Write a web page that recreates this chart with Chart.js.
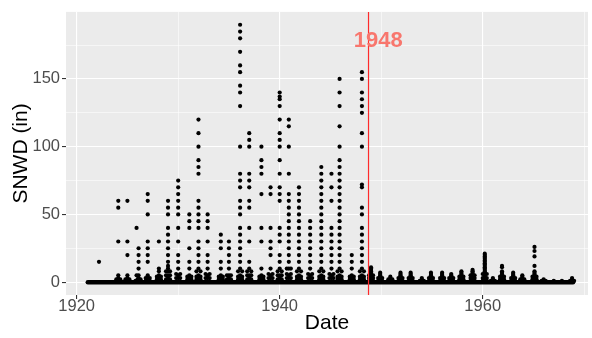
<!DOCTYPE html>
<html>
<head>
<meta charset="utf-8">
<title>SNWD</title>
<script src="https://cdn.jsdelivr.net/npm/chart.js@4.4.1/dist/chart.umd.min.js"></script>
<style>
  html, body { margin: 0; padding: 0; background: #ffffff; }
  #wrap { width: 592px; height: 338px; }
</style>
</head>
<body>
<div id="wrap"><canvas id="snwdChart" width="592" height="338"></canvas></div>
<script>
// winter peaks (decimal year) and the snow depths recorded around them
var winterDates = [1922.2, 1924.1, 1925.0, 1925.9, 1926.1, 1927.0, 1928.1, 1929.0, 1930.0, 1931.1,
  1932.0, 1932.9, 1934.2, 1935.0, 1936.1, 1937.0, 1938.2, 1939.1, 1940.0, 1940.9,
  1941.9, 1943.0, 1944.1, 1945.1, 1945.9, 1947.1, 1948.1, 1949.0, 1949.9, 1950.9,
  1951.9, 1952.9, 1954.0, 1954.9, 1956.0, 1956.9, 1957.9, 1959.0, 1960.2, 1961.0,
  1961.9, 1963.0, 1963.9, 1965.1, 1966.0, 1967.0, 1967.8, 1968.8];

var earlyDates = [1922.0, 1923.9, 1924.8, 1925.8, 1926.0, 1926.8, 1927.9, 1928.8, 1929.8, 1930.9,
  1931.8, 1932.7, 1934.0, 1934.8, 1935.9, 1936.8, 1938.0, 1938.9, 1939.8, 1940.7,
  1941.7, 1942.8, 1943.9, 1944.9, 1945.7, 1946.9, 1947.9, 1948.8, 1949.7, 1950.7,
  1951.7, 1952.7, 1953.8, 1954.7, 1955.8, 1956.7, 1957.7, 1958.8, 1960.0, 1960.8,
  1961.7, 1962.8, 1963.7, 1964.9, 1965.8, 1966.8, 1967.6, 1968.6];

var lateDates = [1922.4, 1924.3, 1925.2, 1926.0, 1926.3, 1927.2, 1928.3, 1929.2, 1930.2, 1931.3,
  1932.2, 1933.1, 1934.4, 1935.2, 1936.3, 1937.2, 1938.4, 1939.3, 1940.2, 1941.1,
  1942.1, 1943.2, 1944.3, 1945.3, 1946.1, 1947.3, 1948.3, 1949.2, 1950.1, 1951.1,
  1952.1, 1953.1, 1954.2, 1955.1, 1956.2, 1957.1, 1958.1, 1959.2, 1960.4, 1961.2,
  1962.1, 1963.2, 1964.1, 1965.3, 1966.2, 1967.2, 1968.0, 1969.0];

var winterDepths = [
  [15],
  [60, 55, 30, 5, 3],
  [60, 30, 20, 5, 3],
  [40, 5],
  [25, 20, 15, 10, 5, 3],
  [65, 60, 50, 30, 25, 20, 15, 5, 3],
  [30, 10, 8, 5, 3, 2],
  [60, 55, 50, 40, 35, 30, 25, 20, 15, 12, 10, 8, 5, 3, 2],
  [75, 70, 65, 60, 55, 50, 40, 30, 20, 15, 10, 5, 3],
  [50, 45, 40, 25, 15, 10, 5, 3],
  [120, 110, 100, 90, 85, 80, 60, 55, 50, 45, 40, 30, 25, 20, 15, 10, 5, 3],
  [50, 45, 40, 30, 20, 15, 10, 5, 3],
  [35, 30, 25, 15, 10, 5, 3],
  [30, 25, 20, 15, 10, 5, 3],
  [190, 185, 180, 170, 160, 155, 145, 140, 130, 100, 80, 75, 70, 60, 55, 50, 40, 35, 30, 25, 20, 15, 10, 5, 3],
  [110, 105, 100, 80, 75, 70, 60, 55, 40, 30, 15, 10, 5, 3],
  [100, 90, 85, 80, 65, 40, 30, 10, 5, 3],
  [70, 65, 40, 30, 25, 20, 10, 5, 3],
  [140, 137, 135, 130, 120, 110, 105, 100, 90, 80, 70, 65, 60, 40, 35, 30, 20, 15, 10, 5, 3],
  [120, 115, 100, 80, 65, 60, 55, 50, 45, 40, 35, 30, 25, 20, 15, 10, 5, 3],
  [70, 65, 60, 55, 50, 45, 40, 35, 30, 25, 20, 15, 10, 5, 3],
  [45, 40, 35, 30, 25, 20, 15, 10, 5, 3],
  [85, 80, 75, 70, 65, 60, 55, 50, 45, 40, 35, 30, 25, 20, 15, 10, 5, 3],
  [80, 70, 60, 40, 35, 30, 25, 20, 15, 10, 5, 3],
  [150, 140, 130, 115, 100, 90, 85, 80, 75, 70, 65, 60, 55, 50, 45, 40, 35, 30, 25, 20, 15, 10, 5, 3],
  [20, 15, 10, 5, 3],
  [155, 150, 140, 135, 130, 125, 110, 100, 72, 70, 55, 50, 40, 35, 30, 25, 20, 15, 10, 5, 3],
  [11, 10, 9, 8, 7, 6, 5, 4, 3, 2, 1],
  [7, 6, 5, 4, 3, 2, 1],
  [4, 3, 2, 1],
  [7, 6, 5, 4, 3, 2, 1],
  [7, 6, 5, 4, 3, 2, 1],
  [3, 2, 1],
  [7, 6, 5, 4, 3, 2, 1],
  [7, 6, 5, 4, 3, 2, 1],
  [6, 5, 4, 3, 2, 1],
  [8, 7, 6, 5, 4, 3, 2, 1],
  [9, 8, 7, 6, 5, 4, 3, 2, 1],
  [21, 20, 19, 18, 17, 16, 15, 14, 13, 12, 11, 10, 9, 8, 7, 6, 5, 4, 3, 2, 1],
  [3, 2, 1],
  [12, 11, 8, 7, 6, 5, 4, 3, 2, 1],
  [7, 6, 5, 4, 3, 2, 1],
  [5, 4, 3, 2, 1],
  [26, 23, 19, 12, 8, 7, 6, 5, 4, 3, 2, 1],
  [2, 1],
  [1],
  [1],
  [3, 2, 1]
];

// smaller depths at the start and end of each winter
var shoulderDepths = [
  [], [2], [2], [1], [2], [3, 1], [4, 2], [8, 5, 2], [6, 3], [4, 2],
  [8, 4, 2], [6, 3], [4, 2], [5, 2], [8, 4, 2], [8, 5, 2], [4, 2], [6, 3], [8, 5, 2], [10, 6, 3],
  [8, 4, 2], [6, 3], [8, 4, 2], [6, 3], [8, 4, 2], [4, 2], [8, 4, 2], [5, 3, 1], [3, 1], [2, 1],
  [3, 1], [3, 1], [1], [3, 1], [3, 1], [3, 1], [4, 2, 1], [5, 3, 1], [6, 3, 1], [1],
  [4, 2, 1], [3, 1], [2, 1], [4, 2, 1], [1], [], [], [1]
];

// days with no snow on the ground, first and last of the record
var recordStart = 1921.1;
var recordEnd = 1968.9;

var cutoffYear = 1948.75;
var cutoffLabel = '1948';
var cutoffLabelYear = 1949.7;
var cutoffLabelDepth = 178;

var yearTicks = [1920, 1930, 1940, 1950, 1960, 1970];
var yearLabels = ['1920', '1940', '1960'];
var depthTicks = [0, 25, 50, 75, 100, 125, 150, 175];
var depthLabels = ['0', '50', '100', '150'];

var points = [];
winterDates.forEach(function (d, i) {
  winterDepths[i].forEach(function (v) { points.push({ x: d, y: v }); });
  shoulderDepths[i].forEach(function (v) {
    points.push({ x: earlyDates[i], y: v });
    points.push({ x: lateDates[i], y: v });
  });
});

var fontFamily = '"Liberation Sans", Arial, Helvetica, sans-serif';

function isMajor(labels, value) {
  return labels.indexOf(String(value)) !== -1;
}

var panelPlugin = {
  id: 'panel',
  beforeDraw: function (chart) {
    var a = chart.chartArea, ctx = chart.ctx;
    ctx.save();
    ctx.fillStyle = '#EBEBEB';
    ctx.fillRect(a.left, a.top, a.right - a.left, a.bottom - a.top);
    ctx.restore();
  },
  afterDatasetsDraw: function (chart) {
    var a = chart.chartArea, ctx = chart.ctx;
    var x = chart.scales.x.getPixelForValue(cutoffYear);
    ctx.save();
    ctx.strokeStyle = '#FF2A2A';
    ctx.lineWidth = 1.2;
    ctx.beginPath();
    ctx.moveTo(x, a.top);
    ctx.lineTo(x, a.bottom);
    ctx.stroke();

    ctx.fillStyle = '#F8766D';
    ctx.font = 'bold 22px ' + fontFamily;
    ctx.textAlign = 'center';
    ctx.textBaseline = 'middle';
    ctx.fillText(cutoffLabel,
      chart.scales.x.getPixelForValue(cutoffLabelYear),
      chart.scales.y.getPixelForValue(cutoffLabelDepth));
    ctx.restore();
  }
};

var ctx = document.getElementById('snwdChart').getContext('2d');
new Chart(ctx, {
  type: 'scatter',
  data: {
    datasets: [{
      // zero-depth days form a solid band along the bottom
      type: 'line',
      data: [{ x: recordStart, y: 0 }, { x: recordEnd, y: 0 }],
      borderColor: '#000000',
      borderWidth: 4.5,
      borderCapStyle: 'round',
      pointRadius: 0,
      fill: false
    }, {
      data: points,
      backgroundColor: '#000000',
      borderWidth: 0,
      pointRadius: 2.1
    }]
  },
  options: {
    responsive: false,
    animation: false,
    devicePixelRatio: 1,
    layout: { padding: { top: 7, right: 1, left: 0, bottom: 0 } },
    plugins: {
      legend: { display: false },
      tooltip: { enabled: false }
    },
    scales: {
      x: {
        type: 'linear',
        min: 1918.95,
        max: 1970.37,
        afterFit: function (scale) { scale.height = 43; },
        afterBuildTicks: function (scale) {
          scale.ticks = yearTicks.map(function (v) { return { value: v }; });
        },
        border: { display: false },
        grid: {
          color: '#FFFFFF',
          lineWidth: function (c) { return isMajor(yearLabels, c.tick.value) ? 1.1 : 0.55; },
          tickColor: function (c) { return isMajor(yearLabels, c.tick.value) ? '#333333' : 'rgba(0,0,0,0)'; },
          tickLength: 4,
          tickWidth: 1.1
        },
        ticks: {
          maxRotation: 0,
          autoSkip: false,
          padding: -1,
          color: '#4D4D4D',
          font: { family: fontFamily, size: 16.5, lineHeight: 1 },
          callback: function (v) { return isMajor(yearLabels, v) ? String(v) : ''; }
        },
        title: {
          display: true,
          text: 'Date',
          color: '#000000',
          font: { family: fontFamily, size: 21 },
          padding: { top: 0, bottom: 2 }
        }
      },
      y: {
        type: 'linear',
        min: -9.5,
        max: 199.5,
        afterFit: function (scale) { scale.width = 66; },
        afterBuildTicks: function (scale) {
          scale.ticks = depthTicks.map(function (v) { return { value: v }; });
        },
        border: { display: false },
        grid: {
          color: '#FFFFFF',
          lineWidth: function (c) { return isMajor(depthLabels, c.tick.value) ? 1.1 : 0.55; },
          tickColor: function (c) { return isMajor(depthLabels, c.tick.value) ? '#333333' : 'rgba(0,0,0,0)'; },
          tickLength: 4,
          tickWidth: 1.1
        },
        ticks: {
          autoSkip: false,
          padding: 2,
          color: '#4D4D4D',
          font: { family: fontFamily, size: 16.5 },
          callback: function (v) { return isMajor(depthLabels, v) ? String(v) : ''; }
        },
        title: {
          display: true,
          text: 'SNWD (in)',
          color: '#000000',
          font: { family: fontFamily, size: 21 },
          padding: { top: 9, bottom: 0 }
        }
      }
    }
  },
  plugins: [panelPlugin]
});
</script>
</body>
</html>
